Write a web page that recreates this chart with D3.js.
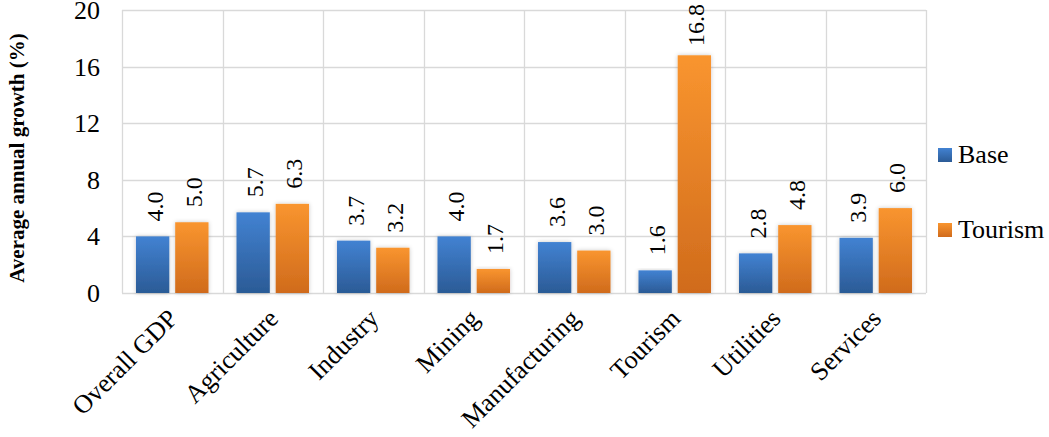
<!DOCTYPE html>
<html><head><meta charset="utf-8">
<script src="https://cdn.jsdelivr.net/npm/d3@7"></script>
<style>
html,body{margin:0;padding:0;background:#fff;}
</style></head>
<body><svg id="chart" width="1049" height="437"></svg>
<script>
const categories = ["Overall GDP","Agriculture","Industry","Mining","Manufacturing","Tourism","Utilities","Services"];
const seriesNames = ["Base","Tourism"];
const baseValues = [4.0,5.7,3.7,4.0,3.6,1.6,2.8,3.9];
const tourismValues = [5.0,6.3,3.2,1.7,3.0,16.8,4.8,6.0];
const yTicks = [0,4,8,12,16,20];
const yTitle = "Average annual growth (%)";

(function(){
const FF = "Liberation Serif";
const svg = d3.select("#chart");
const pLeft=122, pRight=926, pTop=10, pBottom=293;

const defs = svg.append("defs");
const gradSpec = {Base:["#4282d2","#2b5b96"], Tourism:["#f9952f","#d06b1c"]};
seriesNames.forEach((s,i)=>{
  const g = defs.append("linearGradient").attr("id","g"+i).attr("x1",0).attr("y1",0).attr("x2",0).attr("y2",1);
  g.append("stop").attr("offset","0%").attr("stop-color",gradSpec[s][0]);
  g.append("stop").attr("offset","100%").attr("stop-color",gradSpec[s][1]);
});
const f = defs.append("filter").attr("id","sh").attr("x","-30%").attr("y","-10%").attr("width","160%").attr("height","120%");
f.append("feDropShadow").attr("dx",0).attr("dy",0).attr("stdDeviation",2.2).attr("flood-color","#000").attr("flood-opacity",0.22);

const x0 = d3.scaleBand().domain(categories).range([pLeft,pRight]).paddingInner(0).paddingOuter(0);
const x1 = d3.scaleBand().domain(seriesNames).range([0,x0.bandwidth()]).paddingInner(0.15).paddingOuter(0.357);
const y = d3.scaleLinear().domain([0,20]).range([pBottom,pTop]);

svg.append("g").selectAll("line").data(yTicks).join("line")
  .attr("x1",pLeft).attr("x2",pRight).attr("y1",d=>Math.round(y(d))+0.5).attr("y2",d=>Math.round(y(d))+0.5)
  .attr("stroke","#d9d9d9").attr("stroke-width",1.3);
const bounds = categories.map(c=>x0(c)).concat([pRight]);
svg.append("g").selectAll("line").data(bounds).join("line")
  .attr("x1",d=>Math.round(d)+0.5).attr("x2",d=>Math.round(d)+0.5).attr("y1",pTop).attr("y2",pBottom)
  .attr("stroke","#d9d9d9").attr("stroke-width",1.3);

svg.append("g").selectAll("text").data(yTicks).join("text")
  .attr("font-family",FF)
  .attr("x",100).attr("y",d=>y(d)+9).attr("text-anchor","end")
  .style("font-size","26px").text(d=>d);

svg.append("text").attr("font-family",FF).attr("transform",`translate(24,158) rotate(-90)`).attr("text-anchor","middle")
  .style("font-size","21px").style("font-weight","bold").text(yTitle);

const data = categories.map((c,i)=>({cat:c, vals:[{s:"Base",v:baseValues[i],k:0},{s:"Tourism",v:tourismValues[i],k:1}]}));

const groups = svg.append("g").selectAll("g").data(data).join("g").attr("transform",d=>`translate(${x0(d.cat)},0)`);
groups.selectAll("rect").data(d=>d.vals).join("rect")
  .attr("x",d=>x1(d.s)).attr("width",x1.bandwidth())
  .attr("y",d=>y(d.v)).attr("height",d=>y(0)-y(d.v))
  .attr("fill",d=>`url(#g${d.k})`).attr("filter","url(#sh)");

groups.selectAll("text.lab").data(d=>d.vals).join("text").attr("class","lab")
  .attr("font-family",FF)
  .style("font-size","24px").attr("text-anchor","start")
  .text(d=>d.v.toFixed(1))
  .each(function(d){
    const len = this.getComputedTextLength();
    const cx = x1(d.s)+x1.bandwidth()/2+10;
    let sy = y(d.v)-15;
    if (sy-len < 4) sy = 4+len;
    d3.select(this).attr("transform",`translate(${cx},${sy}) rotate(-90)`);
  });

svg.append("g").selectAll("text").data(categories).join("text")
  .attr("font-family",FF)
  .attr("transform",d=>`translate(${x0(d)+x0.bandwidth()/2+7},320) rotate(-45)`)
  .attr("text-anchor","end").style("font-size","26px").text(d=>d);

const lg = svg.append("g").selectAll("g").data(seriesNames).join("g")
  .attr("transform",(d,i)=>`translate(938,${148+i*75})`);
lg.append("rect").attr("width",14).attr("height",14).attr("fill",(d,i)=>`url(#g${i})`);
lg.append("text").attr("font-family",FF).attr("x",20).attr("y",15).style("font-size","26px").text(d=>d);
})();
</script></body></html>
